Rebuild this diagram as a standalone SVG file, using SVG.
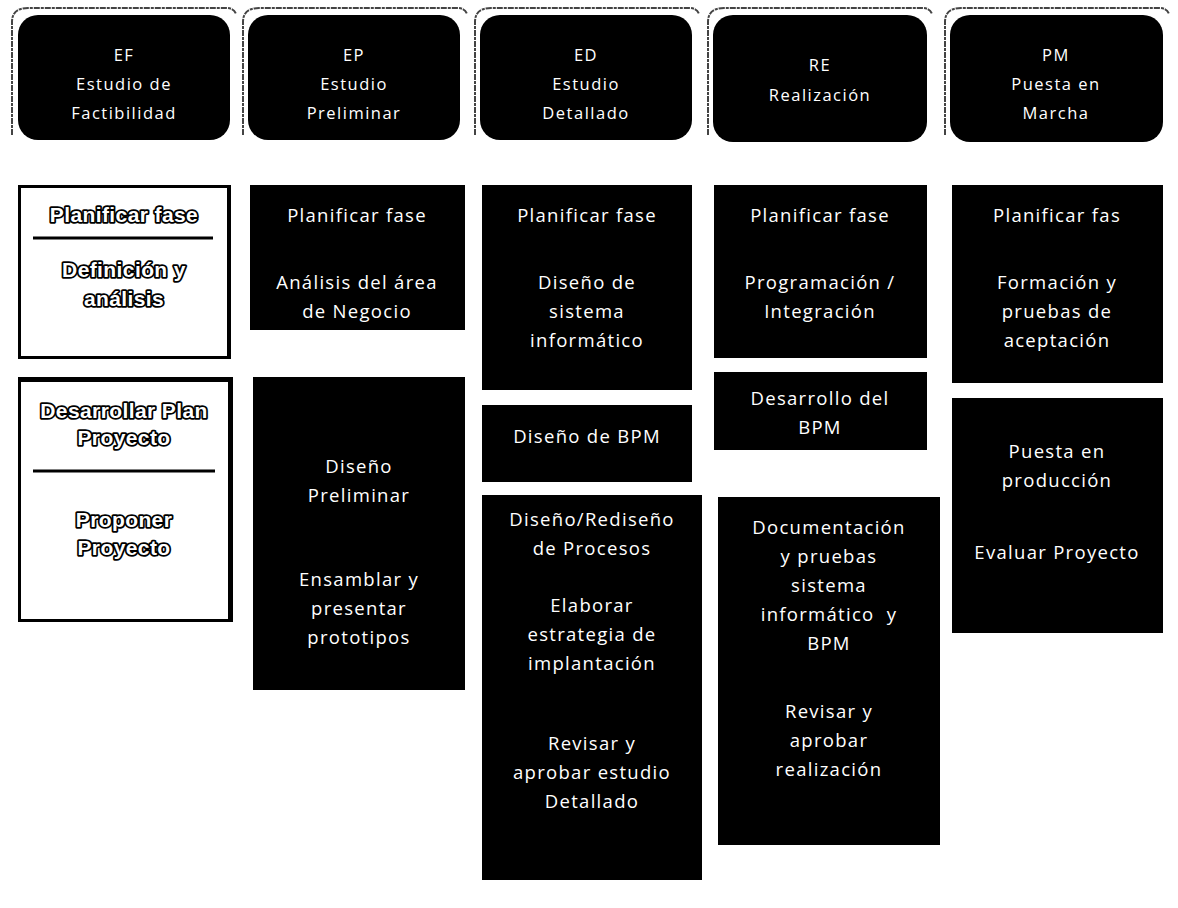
<svg xmlns="http://www.w3.org/2000/svg" width="1178" height="908" viewBox="0 0 1178 908">
  <style>
    .hdr { fill: #000; }
    .edge { fill: none; stroke: #444; stroke-width: 2; stroke-dasharray: 6 1 3 1; }
    .blk { fill: #000; }
    .t { font-family: "Open Sans", "Noto Sans", sans-serif; font-size: 18.5px; fill: #fff; text-anchor: middle; letter-spacing: 1.3px; }
    .th { font-family: "Open Sans", "Noto Sans", sans-serif; font-size: 16.5px; fill: #fff; text-anchor: middle; letter-spacing: 1.5px; }
    .wbox { fill: #fff; stroke: #000; stroke-width: 3; }
    .o { font-family: "Liberation Sans", "Noto Sans", sans-serif; font-weight: bold; font-size: 21px; fill: #fff; stroke: #000; stroke-width: 3.6; paint-order: stroke; stroke-linejoin: round; text-anchor: middle; letter-spacing: 0.4px; }
    .rule { stroke: #000; stroke-width: 3; }
  </style>

  <rect width="1178" height="908" fill="#fff"/>

  <!-- phase headers -->
  <g id="hdr-ef">
    <path class="edge" d="M12,135 L12,22 Q12,8 28,8 L226,8 Q234,8 236,14"/>
    <rect class="hdr" x="18" y="15" width="212" height="125" rx="20"/>
    <text class="th" x="124" y="61">EF</text>
    <text class="th" x="124" y="90">Estudio de</text>
    <text class="th" x="124" y="119">Factibilidad</text>
  </g>
  <g id="hdr-ep">
    <path class="edge" d="M243,135 L243,22 Q243,8 259,8 L457,8 Q465,8 467,14"/>
    <rect class="hdr" x="248" y="15" width="212" height="125" rx="20"/>
    <text class="th" x="354" y="61">EP</text>
    <text class="th" x="354" y="90">Estudio</text>
    <text class="th" x="354" y="119">Preliminar</text>
  </g>
  <g id="hdr-ed">
    <path class="edge" d="M475,135 L475,22 Q475,8 491,8 L689,8 Q697,8 699,14"/>
    <rect class="hdr" x="480" y="15" width="212" height="125" rx="20"/>
    <text class="th" x="586" y="61">ED</text>
    <text class="th" x="586" y="90">Estudio</text>
    <text class="th" x="586" y="119">Detallado</text>
  </g>
  <g id="hdr-re">
    <path class="edge" d="M708,135 L708,22 Q708,8 724,8 L922,8 Q930,8 932,14"/>
    <rect class="hdr" x="713" y="15" width="214" height="127" rx="20"/>
    <text class="th" x="820" y="71">RE</text>
    <text class="th" x="820" y="101">Realización</text>
  </g>
  <g id="hdr-pm">
    <path class="edge" d="M945,135 L945,22 Q945,8 961,8 L1159,8 Q1167,8 1169,14"/>
    <rect class="hdr" x="950" y="15" width="213" height="127" rx="20"/>
    <text class="th" x="1056" y="61">PM</text>
    <text class="th" x="1056" y="90">Puesta en</text>
    <text class="th" x="1056" y="119">Marcha</text>
  </g>

  <!-- EF column: outlined boxes -->
  <g id="ef-1">
    <rect class="wbox" x="19.5" y="186.5" width="210" height="171"/>
    <rect class="blk" x="227" y="186" width="4" height="173"/>
    <text class="o" x="124" y="222">Planificar fase</text>
    <line class="rule" x1="33" y1="238" x2="213" y2="238"/>
    <text class="o" x="124" y="277">Definición y</text>
    <text class="o" x="124" y="306">análisis</text>
  </g>
  <g id="ef-2">
    <rect class="wbox" x="19.5" y="378.5" width="211" height="242"/>
    <rect class="blk" x="18" y="377" width="214" height="5"/>
    <rect class="blk" x="228" y="377" width="5" height="245"/>
    <text class="o" x="124" y="418">Desarrollar Plan</text>
    <text class="o" x="124" y="445">Proyecto</text>
    <line class="rule" x1="33" y1="471" x2="215" y2="471"/>
    <text class="o" x="124" y="527">Proponer</text>
    <text class="o" x="124" y="555">Proyecto</text>
  </g>

  <!-- EP column -->
  <g id="ep-1">
    <rect class="blk" x="250" y="185" width="215" height="145"/>
    <text class="t" x="357" y="222">Planificar fase</text>
    <text class="t" x="357" y="289">Análisis del área</text>
    <text class="t" x="357" y="318">de Negocio</text>
  </g>
  <g id="ep-2">
    <rect class="blk" x="253" y="377" width="212" height="313"/>
    <text class="t" x="359" y="473">Diseño</text>
    <text class="t" x="359" y="502">Preliminar</text>
    <text class="t" x="359" y="586">Ensamblar y</text>
    <text class="t" x="359" y="615">presentar</text>
    <text class="t" x="359" y="644">prototipos</text>
  </g>

  <!-- ED column -->
  <g id="ed-1">
    <rect class="blk" x="482" y="185" width="210" height="205"/>
    <text class="t" x="587" y="222">Planificar fase</text>
    <text class="t" x="587" y="289">Diseño de</text>
    <text class="t" x="587" y="318">sistema</text>
    <text class="t" x="587" y="347">informático</text>
  </g>
  <g id="ed-2">
    <rect class="blk" x="482" y="405" width="210" height="77"/>
    <text class="t" x="587" y="443">Diseño de BPM</text>
  </g>
  <g id="ed-3">
    <rect class="blk" x="482" y="495" width="220" height="385"/>
    <text class="t" x="592" y="526">Diseño/Rediseño</text>
    <text class="t" x="592" y="555">de Procesos</text>
    <text class="t" x="592" y="612">Elaborar</text>
    <text class="t" x="592" y="641">estrategia de</text>
    <text class="t" x="592" y="670">implantación</text>
    <text class="t" x="592" y="750">Revisar y</text>
    <text class="t" x="592" y="779">aprobar estudio</text>
    <text class="t" x="592" y="808">Detallado</text>
  </g>

  <!-- RE column -->
  <g id="re-1">
    <rect class="blk" x="714" y="185" width="213" height="173"/>
    <text class="t" x="820" y="222">Planificar fase</text>
    <text class="t" x="820" y="289">Programación /</text>
    <text class="t" x="820" y="318">Integración</text>
  </g>
  <g id="re-2">
    <rect class="blk" x="714" y="372" width="213" height="78"/>
    <text class="t" x="820" y="405">Desarrollo del</text>
    <text class="t" x="820" y="434">BPM</text>
  </g>
  <g id="re-3">
    <rect class="blk" x="718" y="497" width="222" height="348"/>
    <text class="t" x="829" y="534">Documentación</text>
    <text class="t" x="829" y="563">y pruebas</text>
    <text class="t" x="829" y="592">sistema</text>
    <text class="t" x="829" y="621" xml:space="preserve">informático  y</text>
    <text class="t" x="829" y="650">BPM</text>
    <text class="t" x="829" y="718">Revisar y</text>
    <text class="t" x="829" y="747">aprobar</text>
    <text class="t" x="829" y="776">realización</text>
  </g>

  <!-- PM column -->
  <g id="pm-1">
    <rect class="blk" x="952" y="185" width="211" height="198"/>
    <text class="t" x="1057" y="222">Planificar fas</text>
    <text class="t" x="1057" y="289">Formación y</text>
    <text class="t" x="1057" y="318">pruebas de</text>
    <text class="t" x="1057" y="347">aceptación</text>
  </g>
  <g id="pm-2">
    <rect class="blk" x="952" y="398" width="211" height="235"/>
    <text class="t" x="1057" y="458">Puesta en</text>
    <text class="t" x="1057" y="487">producción</text>
    <text class="t" x="1057" y="559">Evaluar Proyecto</text>
  </g>
</svg>
